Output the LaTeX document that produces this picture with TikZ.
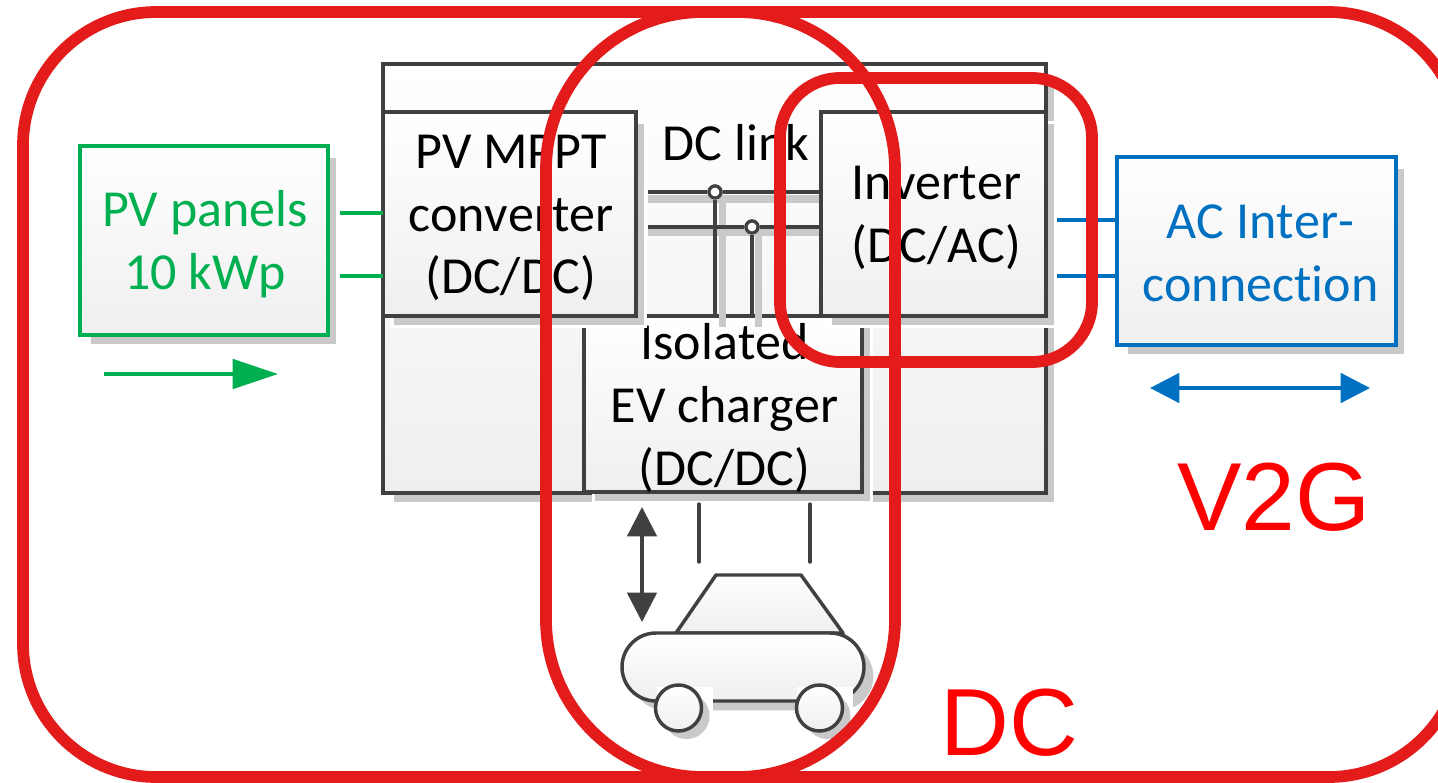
\documentclass[tikz,border=0pt]{standalone}
\usepackage{fontspec}
\setmainfont[Ligatures=NoCommon,Kerning=Off]{Carlito}
\newfontfamily\arialfont{Liberation Sans}
\usetikzlibrary{shadows,arrows.meta,shapes.misc}
\definecolor{linegray}{HTML}{404040}
\definecolor{shadegray}{HTML}{C9C9C9}
\definecolor{boxend}{HTML}{EFEFEF}
\definecolor{pvgreen}{HTML}{00B050}
\definecolor{acblue}{HTML}{0070C0}
\definecolor{ringred}{HTML}{E31B1B}
\tikzset{
  x=0.75pt,y=-0.75pt,
  halo shadow/.style={general shadow={shadow xshift=7pt,shadow yshift=-8pt,fill=shadegray,draw=white,line width=1.8pt}},
  block/.style={rectangle,anchor=north west,inner sep=0pt,outer sep=0pt,top color=white,bottom color=boxend,draw=linegray,line width=2.6pt,halo shadow},
  colour block/.style={block,draw=#1,line width=2.4pt},
  size/.style 2 args={minimum width=#1*0.75pt,minimum height=#2*0.75pt},
  label text/.style={font=\fontsize{39}{47}\selectfont,align=center,inner sep=0pt},
  ring/.style={draw=ringred,line width=8.8pt},
  wire/.style={draw=linegray,line width=2.6pt},
  wire shade/.style={draw=shadegray,line width=5.5pt},
  pv wire/.style={draw=pvgreen,line width=3pt},
  ac wire/.style={draw=acblue,line width=3pt},
  dot/.style={circle,draw=linegray,fill=white,line width=2.4pt,inner sep=0pt,minimum size=9pt},
  wheel/.style={circle,draw=linegray,line width=2.6pt,top color=white,bottom color=boxend,inner sep=0pt,minimum size=34.5pt,general shadow={shadow xshift=6pt,shadow yshift=-6pt,fill=shadegray}},
  gap/.style={fill=white,draw=none},
}
\begin{document}
\begin{tikzpicture}
\clip (0,0) rectangle (1438,782);
\useasboundingbox (0,0) rectangle (1438,782);
\fill[white] (0,0) rectangle (1438,782);
% large cabinet and charger
\node[block,size={663}{429}] (cabinet) at (383,64) {};
\node[block,size={278}{176}] (charger) at (584,316) {};
\node[label text,text=black] (chargertext) at (724.5,408) {Isolated\\EV charger\\(DC/DC)};
% DC link wiring
\coordinate (a1) at (648,192); \coordinate (a2) at (821,192);
\coordinate (b1) at (648,227); \coordinate (b2) at (821,227);
\coordinate (a3) at (715,316); \coordinate (b3) at (752,316);
\node[dot] (dota) at (715,192) {};
\node[dot] (dotb) at (752,227) {};
\draw[wire shade] (648,199) -- (821,199);
\draw[wire shade] (648,232) -- (821,232);
\draw[wire shade] (722.5,197) -- (722.5,327);
\draw[wire shade] (758.5,232) -- (758.5,327);
\draw[wire] (a1) -- (dota) -- (a2);
\draw[wire] (b1) -- (dotb) -- (b2);
\draw[wire] (dota) -- (a3);
\draw[wire] (dotb) -- (b3);
\node[dot] at (dota) {};
\node[dot] at (dotb) {};
\node[label text,text=black] (dclink) at (736,143) {DC link};
% converters
\node[block,size={253}{204}] (mppt) at (383,112) {};
\node[label text,text=black] (mppttext) at (511,218) {PV MPPT\\converter\\(DC/DC)};
\node[block,size={225}{204}] (inverter) at (821,112) {};
\node[label text,text=black] (invertertext) at (936.5,218) {Inverter\\(DC/AC)};
% PV panels
\node[colour block=pvgreen,size={248}{189}] (pv) at (80,146) {};
\node[label text,text=pvgreen] (pvtext) at (205,244) {PV panels\\10 kWp};
\coordinate (g1) at (340,213); \coordinate (g1e) at (383,213);
\coordinate (g2) at (340,276); \coordinate (g2e) at (383,276);
\draw[pv wire] (g1) -- (g1e);
\draw[pv wire] (g2) -- (g2e);
\coordinate (ga) at (104,374); \coordinate (gb) at (278,374);
\draw[pv wire,-{Triangle[length=34pt,width=22pt]}] (ga) -- (gb);
% AC interconnection
\node[colour block=acblue,size={279}{188}] (ac) at (1117,157) {};
\node[label text,text=acblue] (actext) at (1260.5,253) {AC Inter-\\connection};
\coordinate (c1) at (1057,220); \coordinate (c1e) at (1117,220);
\coordinate (c2) at (1057,276); \coordinate (c2e) at (1117,276);
\draw[ac wire] (c1) -- (c1e);
\draw[ac wire] (c2) -- (c2e);
\coordinate (ca) at (1150,388); \coordinate (cb) at (1370,388);
\draw[ac wire,{Triangle[length=22pt,width=22pt]}-{Triangle[length=22pt,width=22pt]}] (ca) -- (cb);
% charger to car
\coordinate (da) at (642,507); \coordinate (db) at (642,622);
\draw[wire,{Triangle[length=22pt,width=22pt]}-{Triangle[length=22pt,width=22pt]}] (da) -- (db);
\coordinate (p1) at (699,504); \coordinate (p1e) at (699,562);
\coordinate (p2) at (810,504); \coordinate (p2e) at (810,562);
\draw[wire,line cap=round] (p1) -- (p1e);
\draw[wire,line cap=round] (p2) -- (p2e);
% car
\fill[shadegray] (724,583) -- (808,583) -- (850,640) -- (684,640) -- cycle;
\path[draw=linegray,line width=2.6pt,top color=white,bottom color=boxend,line join=round] (676,633) -- (716,575) -- (801,575) -- (843,633) -- cycle;
\node[rounded rectangle,draw=linegray,line width=2.6pt,top color=white,bottom color=boxend,inner sep=0pt,minimum width=181.5pt,minimum height=51pt,general shadow={shadow xshift=7pt,shadow yshift=-7pt,fill=shadegray}] (body) at (743,667) {};
\fill[gap] (657,687) rectangle (713,736);
\fill[gap] (797,687) rectangle (853,736);
\node[wheel] (wheelA) at (678.5,708) {};
\node[wheel] (wheelB) at (819.5,708) {};
% rings
\draw[ring,rounded corners=100pt] (23,12) rectangle (1462,777);
\draw[ring,rounded corners=118pt] (546,12) rectangle (895,777);
\draw[ring,rounded corners=45pt] (780,78) rectangle (1092,362);
\node[font=\arialfont\fontsize{72.5}{72.5}\selectfont,text=red,anchor=base] (v2g) at (1274,530) {V2G};
\node[font=\arialfont\fontsize{71.5}{71.5}\selectfont,text=red,anchor=base] (dc) at (1009.5,755) {DC};
\end{tikzpicture}
\end{document}
